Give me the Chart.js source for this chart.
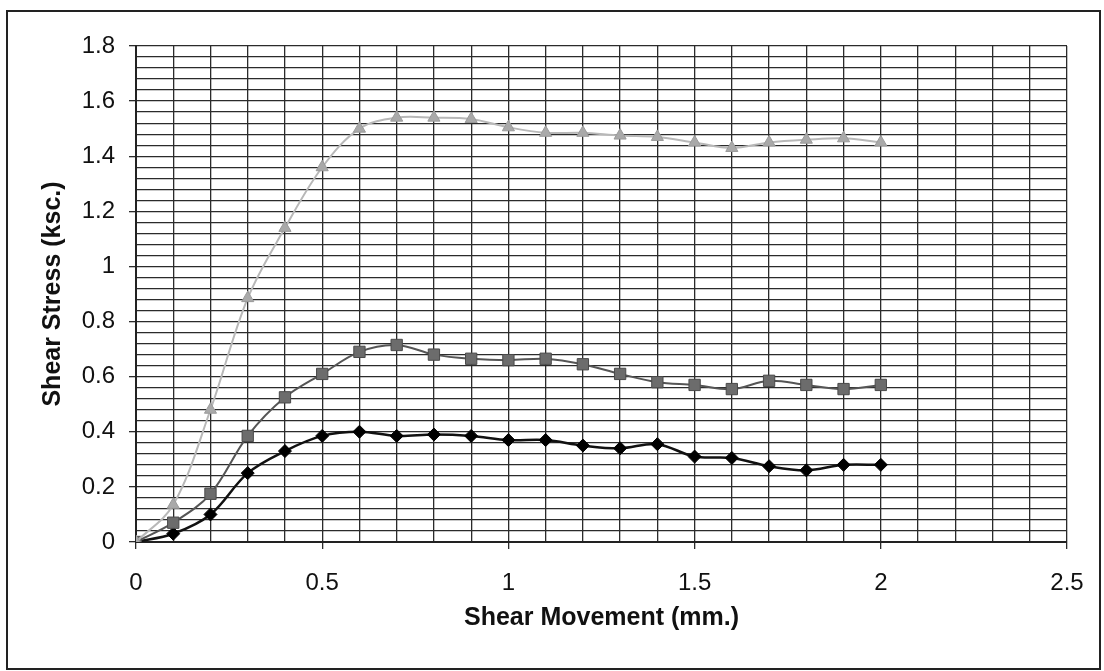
<!DOCTYPE html>
<html>
<head>
<meta charset="utf-8">
<script src="https://cdn.jsdelivr.net/npm/chart.js@4/dist/chart.umd.min.js"></script>
<style>
  html, body { margin: 0; padding: 0; background: #fff; }
  #wrap { position: relative; width: 1104px; height: 671px; }
  #frame { position: absolute; left: 6px; top: 10px; width: 1091px; height: 656px; border: 2px solid #222; pointer-events: none; }
  canvas { position: absolute; left: 0; top: 0; }
</style>
</head>
<body>
<div id="wrap">
  <canvas id="shearChart" width="1104" height="671"></canvas>
  <div id="frame"></div>
</div>
<script>
// shear stress vs shear movement, three normal loads
const movement = [0, 0.1, 0.2, 0.3, 0.4, 0.5, 0.6, 0.7, 0.8, 0.9, 1.0,
                  1.1, 1.2, 1.3, 1.4, 1.5, 1.6, 1.7, 1.8, 1.9, 2.0];
const stressLow = [0, 0.03, 0.10, 0.25, 0.33, 0.385, 0.40, 0.385, 0.39, 0.385, 0.37,
                   0.37, 0.35, 0.34, 0.355, 0.31, 0.305, 0.275, 0.26, 0.28, 0.28];
const stressMid = [0, 0.07, 0.175, 0.385, 0.525, 0.61, 0.69, 0.715, 0.68, 0.665, 0.66,
                   0.665, 0.645, 0.61, 0.58, 0.57, 0.555, 0.585, 0.57, 0.555, 0.57];
const stressHigh = [0, 0.135, 0.48, 0.885, 1.14, 1.36, 1.50, 1.54, 1.54, 1.535, 1.505,
                    1.485, 1.485, 1.475, 1.47, 1.45, 1.43, 1.45, 1.46, 1.465, 1.45];

const xMajorTicks = [0, 0.5, 1, 1.5, 2, 2.5];
const yMajorTicks = [0, 0.2, 0.4, 0.6, 0.8, 1, 1.2, 1.4, 1.6, 1.8];

const isMajor = (v, list) => list.some(m => Math.abs(m - v) < 1e-6);
const pts = (ys) => movement.map((x, i) => ({ x, y: ys[i] }));

const tickFont = { family: 'Liberation Sans, Arial, sans-serif', size: 24 };
const titleFont = { family: 'Liberation Sans, Arial, sans-serif', size: 25, weight: 'bold' };
const GRID = '#2b2b2b';

new Chart(document.getElementById('shearChart').getContext('2d'), {
  type: 'scatter',
  data: {
    datasets: [
      { label: 'high', data: pts(stressHigh), showLine: true, tension: 0.35,
        borderColor: '#b8b8b8', borderWidth: 2, pointStyle: 'triangle', pointRadius: 7,
        backgroundColor: '#a9a9a9', pointBorderColor: '#9a9a9a', pointBorderWidth: 1 },
      { label: 'mid', data: pts(stressMid), showLine: true, tension: 0.35,
        borderColor: '#555', borderWidth: 2, pointStyle: 'rect', pointRadius: 8,
        backgroundColor: '#6c6c6c', pointBorderColor: '#4a4a4a', pointBorderWidth: 1 },
      { label: 'low', data: pts(stressLow), showLine: true, tension: 0.35,
        borderColor: '#111', borderWidth: 2.5, pointStyle: 'rectRot', pointRadius: 6.5,
        backgroundColor: '#000', pointBorderColor: '#000', pointBorderWidth: 1 },
    ]
  },
  options: {
    responsive: false,
    animation: false,
    layout: { padding: { left: 0, top: 46, right: 37, bottom: 0 } },
    plugins: { legend: { display: false }, tooltip: { enabled: false } },
    scales: {
      x: {
        type: 'linear', min: 0, max: 2.5,
        afterFit: (s) => { s.height = 129; },
        ticks: {
          stepSize: 0.1, autoSkip: false, maxRotation: 0, padding: 20,
          color: '#111', font: tickFont,
          callback: (v) => isMajor(v, xMajorTicks) ? String(+v.toFixed(1)) : ''
        },
        grid: {
          color: GRID, lineWidth: 1.3, tickLength: 7,
          tickColor: (c) => (c.tick && isMajor(c.tick.value, xMajorTicks)) ? GRID : 'rgba(0,0,0,0)'
        },
        border: { color: '#222', width: 2 },
        title: { display: true, text: 'Shear Movement (mm.)', color: '#111', font: titleFont,
                 padding: { top: 0, bottom: 38 } }
      },
      y: {
        type: 'linear', min: 0, max: 1.8,
        afterFit: (s) => { s.width = 136; },
        ticks: {
          stepSize: 0.04, autoSkip: false, padding: 14,
          color: '#111', font: tickFont,
          callback: (v) => isMajor(v, yMajorTicks) ? String(+v.toFixed(1)) : ''
        },
        grid: {
          color: GRID, lineWidth: 1.3, tickLength: 7,
          tickColor: (c) => (c.tick && isMajor(c.tick.value, yMajorTicks)) ? GRID : 'rgba(0,0,0,0)'
        },
        border: { color: '#222', width: 2 },
        title: { display: true, text: 'Shear Stress (ksc.)', color: '#111', font: titleFont,
                 padding: { top: 38, bottom: 0 } }
      }
    }
  }
});
</script>
</body>
</html>
